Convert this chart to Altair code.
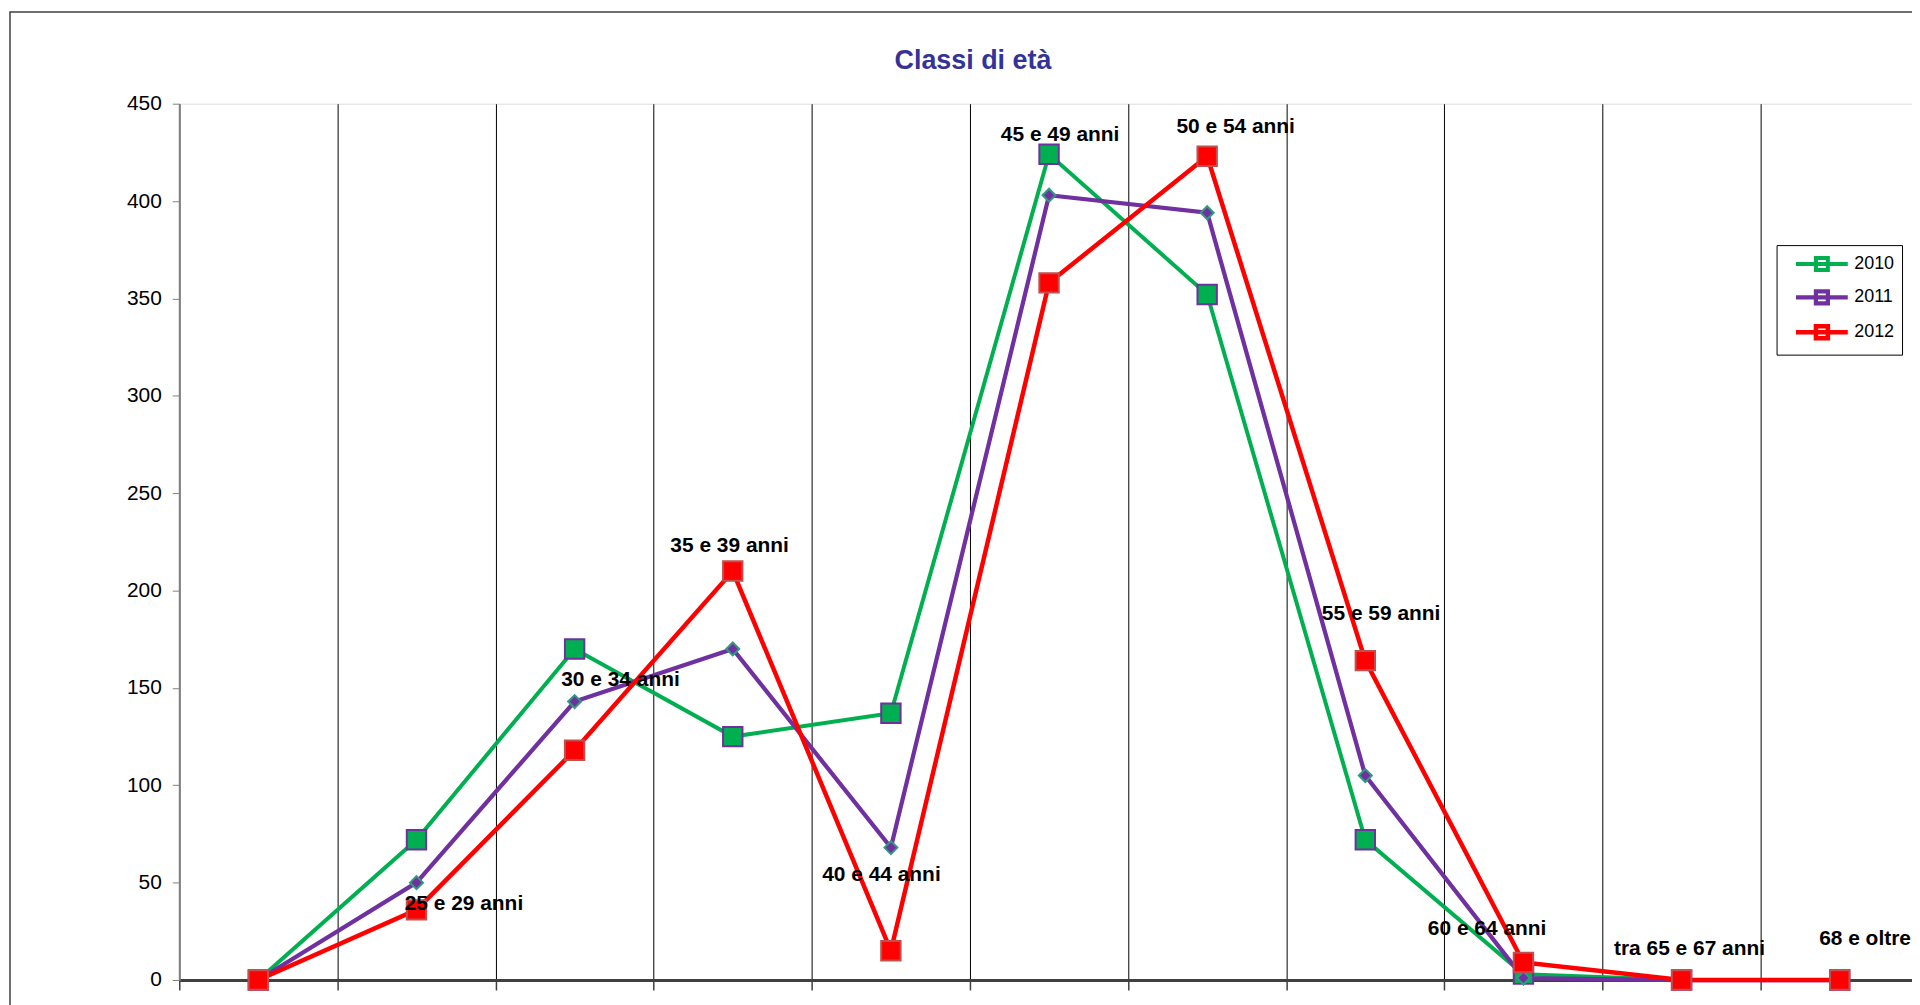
import altair as alt
import pandas as pd

# ---- data ----
categories = ["fino a 24 anni", "25 e 29 anni", "30 e 34 anni", "35 e 39 anni",
              "40 e 44 anni", "45 e 49 anni", "50 e 54 anni", "55 e 59 anni",
              "60 e 64 anni", "tra 65 e 67 anni", "68 e oltre"]
years = ["2010", "2011", "2012"]
v2010 = [0, 72, 170, 125, 137, 424, 352, 72, 3, 0, 0]
v2011 = [0, 50, 143, 170, 68, 403, 394, 105, 1, 0, 0]
v2012 = [0, 36, 118, 210, 15, 358, 423, 164, 9, 0, 0]

# data labels (category names) as placed in the reference, in data units
label_text = categories[1:]
label_x = [1.80, 2.79, 3.48, 4.44, 5.57, 6.68, 7.60, 8.27, 9.55, 10.66]
label_y = [39, 154, 223, 54, 434, 438, 188, 26, 16, 21]

title_text = "Classi di età"

line_colors = ["#00B050", "#7030A0", "#FF0000"]
line_widths = [4, 4.5, 5.5]
marker_strokes = ["#7030A0", "#339980", "#C0504D"]
marker_shapes = ["square", "diamond", "square"]
marker_sizes = [380, 170, 380]

rows = []
for yr, vals in zip(years, [v2010, v2011, v2012]):
    for i, (c, v) in enumerate(zip(categories, vals)):
        rows.append({"anno": yr, "categoria": c, "pos": i + 0.5, "valore": v})
df = pd.DataFrame(rows)
lab = pd.DataFrame({"testo": label_text, "lx": label_x, "ly": label_y})

FONT = "Liberation Sans"
xscale = alt.Scale(domain=[0, 10.957], nice=False, zero=False)
yscale = alt.Scale(domain=[0, 450], nice=False)

x_enc = alt.X("pos:Q", scale=xscale, title=None,
              axis=alt.Axis(values=list(range(0, 11)), labels=False, tickSize=10,
                            tickColor="#404040", tickWidth=1.5,
                            domainColor="#404040", domainWidth=3,
                            grid=True, gridColor="#000000", gridWidth=1))
y_enc = alt.Y("valore:Q", scale=yscale, title=None,
              axis=alt.Axis(values=list(range(0, 451, 50)), grid=False, tickSize=7,
                            tickColor="#808080", domainColor="#808080", domainWidth=2,
                            labelFont=FONT, labelFontSize=21, labelColor="#000000",
                            labelPadding=11))

frame = alt.Chart(pd.DataFrame({"a": [0]})).mark_rect(
    fill=None, stroke="#404040", strokeWidth=1.5
).encode(x=alt.value(-170), x2=alt.value(1900), y=alt.value(-92), y2=alt.value(1000))

title = alt.Chart(pd.DataFrame({"t": [title_text]})).mark_text(
    font=FONT, fontSize=27, fontWeight="bold", color="#333399",
    align="center", baseline="middle"
).encode(x=alt.value(797), y=alt.value(-43), text="t:N")

lines = alt.Chart(df).mark_line().encode(
    x=x_enc, y=y_enc,
    color=alt.Color("anno:N", scale=alt.Scale(domain=years, range=line_colors),
                    legend=alt.Legend(title=None, orient="none", legendX=1604, legendY=142,
                                      symbolType="M-2.6,0H2.6M-0.6,-0.6H0.6V0.6H-0.6Z",
                                      symbolSize=400, symbolStrokeWidth=4,
                                      symbolOffset=26,
                                      labelFont=FONT, labelFontSize=18, labelColor="#000000",
                                      labelOffset=20, rowPadding=5, padding=7,
                                      fillColor="#FFFFFF", strokeColor="#000000")),
    strokeWidth=alt.StrokeWidth("anno:N", scale=alt.Scale(domain=years, range=line_widths),
                                legend=None),
    order="pos:Q",
)

point_layers = []
for yr, col, stk, shp, sz in zip(years, line_colors, marker_strokes, marker_shapes, marker_sizes):
    point_layers.append(
        alt.Chart(df).transform_filter(alt.datum.anno == yr).mark_point(
            filled=True, fill=col, stroke=stk, strokeWidth=2, shape=shp, size=sz, opacity=1
        ).encode(x="pos:Q", y="valore:Q")
    )

labels = alt.Chart(lab).mark_text(font=FONT, fontSize=21, fontWeight="bold",
                                  color="#000000", align="center", baseline="middle").encode(
    x="lx:Q", y="ly:Q", text="testo:N"
)

chart = alt.layer(frame, title, lines, *point_layers, labels).properties(
    width=1740, height=880,
    autosize=alt.AutoSizeParams(type="none"),
    padding={"left": 172, "top": 94, "right": 0, "bottom": 23},
).configure_view(
    fill="#FFFFCC", stroke="#808080", strokeWidth=2
).configure(background="#FFFFFF")

chart.save("out.html", embed_options={"renderer": "svg", "actions": False})
